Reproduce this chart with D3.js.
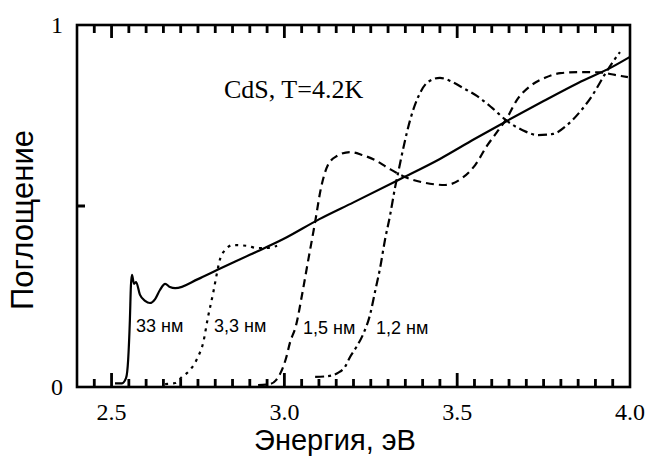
<!DOCTYPE html>
<html>
<head>
<meta charset="utf-8">
<script src="https://cdn.jsdelivr.net/npm/d3@7"></script>
<style>
  body { margin: 0; background: #fff; }
  svg { display: block; }
  .serif { font-family: "Liberation Serif", "Times New Roman", serif; }
  .sans { font-family: "Liberation Sans", Arial, sans-serif; }
</style>
</head>
<body>
<svg id="svg" width="648" height="459"></svg>
<script>
// energy (eV), absorption (a.u.)
var nm33 = [
  [2.51, 0.01], [2.53, 0.01], [2.542, 0.025], [2.548, 0.075], [2.553, 0.185],
  [2.556, 0.28], [2.559, 0.31], [2.565, 0.285], [2.571, 0.29], [2.582, 0.255],
  [2.597, 0.238], [2.611, 0.232], [2.626, 0.243], [2.64, 0.268], [2.655, 0.285],
  [2.669, 0.276], [2.684, 0.273], [2.75, 0.298], [2.805, 0.323], [2.9, 0.365],
  [3.0, 0.41], [3.1, 0.463], [3.2, 0.51], [3.33, 0.572], [3.45, 0.63],
  [3.55, 0.685], [3.644, 0.735], [3.75, 0.79], [3.85, 0.84], [3.95, 0.885], [4.0, 0.912]
];
var nm3_3 = [
  [2.655, 0.008], [2.684, 0.011], [2.704, 0.028], [2.727, 0.047], [2.75, 0.083],
  [2.765, 0.122], [2.779, 0.193], [2.794, 0.26], [2.805, 0.315], [2.811, 0.343],
  [2.828, 0.378], [2.851, 0.392], [2.892, 0.39], [2.921, 0.384], [2.95, 0.384], [2.979, 0.39]
];
var nm1_5 = [
  [2.924, 0.005], [2.958, 0.008], [2.976, 0.019], [2.99, 0.041], [3.005, 0.08],
  [3.016, 0.122], [3.034, 0.171], [3.051, 0.254], [3.068, 0.345], [3.089, 0.456],
  [3.106, 0.55], [3.126, 0.613], [3.152, 0.638], [3.19, 0.649], [3.225, 0.641],
  [3.262, 0.627], [3.3, 0.605], [3.349, 0.58], [3.407, 0.564], [3.465, 0.558],
  [3.514, 0.577], [3.552, 0.613], [3.586, 0.666], [3.615, 0.704], [3.644, 0.743],
  [3.673, 0.793], [3.711, 0.831], [3.754, 0.854], [3.798, 0.867], [3.855, 0.87],
  [3.913, 0.869], [3.957, 0.862], [3.994, 0.856]
];
var nm1_2 = [
  [3.089, 0.028], [3.126, 0.03], [3.155, 0.039], [3.175, 0.055], [3.19, 0.083],
  [3.21, 0.113], [3.228, 0.146], [3.248, 0.2], [3.262, 0.262], [3.277, 0.329],
  [3.291, 0.406], [3.306, 0.475], [3.32, 0.55], [3.332, 0.605], [3.346, 0.668],
  [3.364, 0.738], [3.387, 0.801], [3.416, 0.843], [3.45, 0.854], [3.485, 0.843],
  [3.517, 0.826], [3.557, 0.804], [3.601, 0.771], [3.644, 0.735], [3.688, 0.71],
  [3.734, 0.696], [3.777, 0.699], [3.815, 0.721], [3.855, 0.76], [3.89, 0.804],
  [3.928, 0.865], [3.954, 0.903], [3.971, 0.925]
];

var xMajor = [2.5, 3.0, 3.5, 4.0];
var xMajorLabels = ["2.5", "3.0", "3.5", "4.0"];
var xTickVals = [2.45, 2.5, 2.55, 2.6, 2.65, 2.7, 2.75, 2.8, 2.85, 2.9, 2.95, 3.0,
    3.05, 3.1, 3.15, 3.2, 3.25, 3.3, 3.35, 3.4, 3.45, 3.5, 3.55, 3.6, 3.65,
    3.7, 3.75, 3.8, 3.85, 3.9, 3.95];
var xLongTicks = [2.5, 3.0, 3.5];
var yTicks = [0, 0.5, 1];
var yTickLabels = ["0", "", "1"];

var series = [
  { data: nm33, dash: null, label: "33 нм", lx: 136, ly: 332 },
  { data: nm3_3, dash: "3,5", label: "3,3 нм", lx: 214, ly: 332 },
  { data: nm1_5, dash: "8,5", label: "1,5 нм", lx: 303, ly: 334 },
  { data: nm1_2, dash: "9,4,3,4", label: "1,2 нм", lx: 376, ly: 334 }
];

var pLeft = 77, pRight = 630, pTop = 25, pBottom = 387;

var x = d3.scaleLinear().domain([2.4, 4.0]).range([pLeft, pRight]);
var y = d3.scaleLinear().domain([0, 1]).range([pBottom, pTop]);

var svg = d3.select("#svg");

// tick marks, all pointing into the frame
var tickPath = d3.path();
xTickVals.forEach(function (v) {
    var isLong = xLongTicks.indexOf(v) >= 0;
    var px = x(v);
    tickPath.moveTo(px, pBottom);
    tickPath.lineTo(px, pBottom - (isLong ? 14 : 8));
    tickPath.moveTo(px, pTop);
    tickPath.lineTo(px, pTop + (isLong ? 13 : 8));
});
tickPath.moveTo(pLeft, y(0.5));
tickPath.lineTo(pLeft + 8, y(0.5));

svg.append("path")
    .attr("d", tickPath.toString())
    .attr("fill", "none")
    .attr("stroke", "#000")
    .attr("stroke-width", 2.8);

// frame
svg.append("rect")
    .attr("x", pLeft).attr("y", pTop)
    .attr("width", pRight - pLeft).attr("height", pBottom - pTop)
    .attr("fill", "none").attr("stroke", "#000").attr("stroke-width", 2.6);

// x tick labels
svg.selectAll(".xl").data(xMajor).enter().append("text")
    .attr("class", "serif")
    .attr("x", function (d) { return x(d); })
    .attr("y", 420)
    .attr("text-anchor", "middle")
    .attr("font-size", 24)
    .text(function (d, i) { return xMajorLabels[i]; });

// y tick labels
svg.selectAll(".yl").data(yTicks).enter().append("text")
    .attr("class", "serif")
    .attr("x", 63)
    .attr("y", function (d) { return y(d) + 8; })
    .attr("text-anchor", "end")
    .attr("font-size", 24)
    .text(function (d, i) { return yTickLabels[i]; });

// curves
var line = d3.line()
    .x(function (d) { return x(d[0]); })
    .y(function (d) { return y(d[1]); })
    .curve(d3.curveMonotoneX);

series.forEach(function (s) {
    svg.append("path")
        .attr("d", line(s.data))
        .attr("fill", "none")
        .attr("stroke", "#000")
        .attr("stroke-width", 2.2)
        .attr("stroke-dasharray", s.dash);
    svg.append("text")
        .attr("class", "sans")
        .attr("x", s.lx).attr("y", s.ly)
        .attr("font-size", 18)
        .text(s.label);
});

svg.append("text")
    .attr("class", "serif")
    .attr("x", 224).attr("y", 98)
    .attr("font-size", 26)
    .text("CdS, T=4.2K");

// axis titles
svg.append("text")
    .attr("class", "sans")
    .attr("x", 335).attr("y", 450)
    .attr("text-anchor", "middle")
    .attr("font-size", 29)
    .text("Энергия, эВ");

svg.append("text")
    .attr("class", "sans")
    .attr("transform", "translate(33,220) rotate(-90)")
    .attr("text-anchor", "middle")
    .attr("font-size", 31)
    .text("Поглощение");
</script>
</body>
</html>
